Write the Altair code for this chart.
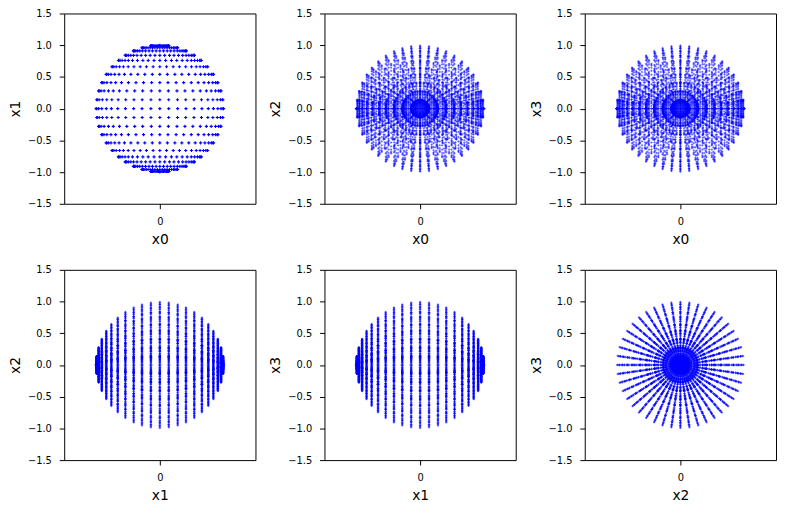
# Level values below (row heights, equator
# positions, spoke directions). The scatter cloud is too large to transcribe point
# by point, so the table is the grid these read levels span on the unit sphere.
import math
import altair as alt
import pandas as pd

row_levels = [-1.0, -0.99, -0.96, -0.91, -0.84, -0.76, -0.66, -0.54, -0.41, -0.28, -0.14, 0.0,
              0.14, 0.28, 0.41, 0.54, 0.66, 0.76, 0.84, 0.91, 0.96, 0.99, 1.0]
equator_positions = [-1.0, -0.99, -0.96, -0.91, -0.84, -0.76, -0.66, -0.54, -0.41, -0.28, -0.14, 0.0,
                     0.14, 0.28, 0.41, 0.54, 0.66, 0.76, 0.84, 0.91, 0.96, 0.99, 1.0]
spoke_degrees = [0, 8.2, 16.4, 24.5, 32.7, 40.9, 49.1, 57.3, 65.5, 73.6, 81.8,
                 90, 98.2, 106.4, 114.5, 122.7, 130.9, 139.1, 147.3, 155.5, 163.6, 171.8,
                 180, 188.2, 196.4, 204.5, 212.7, 220.9, 229.1, 237.3, 245.5, 253.6, 261.8,
                 270, 278.2, 286.4, 294.5, 302.7, 310.9, 319.1, 327.3, 335.5, 343.6, 351.8]
panel_pairs = [("x0", "x1"), ("x0", "x2"), ("x0", "x3"),
               ("x1", "x2"), ("x1", "x3"), ("x2", "x3")]
y_ticks = [-1.5, -1.0, -0.5, 0.0, 0.5, 1.0, 1.5]
x_ticks = [0]

rows = []
for x1 in row_levels:
    s = math.sqrt(max(0.0, 1 - x1 * x1))
    for f in equator_positions:
        x0 = s * f
        r = s * math.sqrt(max(0.0, 1 - f * f))
        for a in spoke_degrees:
            rows.append((x0, x1, r * math.cos(math.radians(a)), r * math.sin(math.radians(a))))
table = pd.DataFrame(rows, columns=["x0", "x1", "x2", "x3"])

plus = "M -1 0 L 1 0 M 0 -1 L 0 1"


def panel(xname, yname):
    d = table[[xname, yname]].round(3).rename(columns={xname: "a", yname: "b"})
    d = d.groupby(["a", "b"]).size().reset_index(name="n")
    d["ink"] = (1 - 0.7 ** d["n"]).round(3)
    d["pen"] = (0.45 + 0.05 * d["n"]).clip(upper=1.1).round(2)
    d["mark"] = (4 + 0.4 * d["n"]).clip(upper=10).round(1)
    return (
        alt.Chart(d)
        .mark_point(shape=plus, filled=False, color="#0000ff")
        .encode(
            x=alt.X("a:Q", scale=alt.Scale(domain=[-1.5, 1.5], nice=False, zero=False),
                    axis=alt.Axis(title=xname, values=x_ticks, format="d", grid=False)),
            y=alt.Y("b:Q", scale=alt.Scale(domain=[-1.5, 1.5], nice=False, zero=False),
                    axis=alt.Axis(title=yname, values=y_ticks, format=".1f", grid=False)),
            opacity=alt.Opacity("ink:Q", scale=None),
            strokeWidth=alt.StrokeWidth("pen:Q", scale=None),
            size=alt.Size("mark:Q", scale=None),
        )
        .properties(width=194, height=193)
    )


chart = (
    alt.concat(*[panel(a, b) for a, b in panel_pairs], columns=3, spacing={"row": 17, "column": 12})
    .properties(padding={"left": 0, "top": -4, "right": 0, "bottom": 0}, background="white")
    .configure_view(stroke="black", strokeWidth=1)
    .configure_axis(domain=False, tickColor="black", tickSize=5, tickWidth=1,
                    labelFont="DejaVu Sans", labelFontSize=10, labelColor="black", labelPadding=8,
                    titleFont="DejaVu Sans", titleFontSize=14, titleFontWeight="normal",
                    titleColor="black", titlePadding=6)
    .configure_axisY(titlePadding=5)
)
chart.save("out.html", embed_options={"renderer": "svg", "actions": False})
